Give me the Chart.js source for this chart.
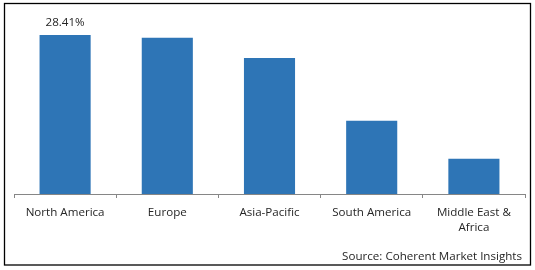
<!DOCTYPE html>
<html>
<head>
<meta charset="utf-8">
<script src="https://cdn.jsdelivr.net/npm/chart.js@4.4.0/dist/chart.umd.min.js"></script>
<style>
html,body{margin:0;padding:0;background:#fff;}
#wrap{position:relative;width:535px;height:270px;}
</style>
</head>
<body>
<div id="wrap"><canvas id="c" width="535" height="270"></canvas></div>
<script>
const categories = ['North America', 'Europe', 'Asia-Pacific', 'South America', ['Middle East &', 'Africa']];
const shareValues = [28.41, 27.9, 24.3, 13.1, 6.3];
const shownLabels = ['28.41%', '', '', '', ''];
const sourceText = 'Source: Coherent Market Insights';

const FONT = '"Open Sans", "DejaVu Sans", sans-serif';
const FSIZE = 11.6;

const decor = {
  id: 'decor',
  afterDraw(chart) {
    const ctx = chart.ctx;
    ctx.save();
    ctx.strokeStyle = '#000';
    ctx.lineWidth = 1.3;
    ctx.strokeRect(4.5, 3.5, 526, 261.5);
    const meta = chart.getDatasetMeta(0);
    ctx.fillStyle = '#262626';
    ctx.font = FSIZE + 'px ' + FONT;
    ctx.textAlign = 'center';
    ctx.textBaseline = 'middle';
    meta.data.forEach((bar, i) => {
      if (shownLabels[i]) ctx.fillText(shownLabels[i], bar.x, bar.y - 12);
    });
    ctx.textAlign = 'right';
    ctx.fillText(sourceText, 522, 257);
    ctx.restore();
  }
};

new Chart(document.getElementById('c'), {
  type: 'bar',
  data: {
    labels: categories,
    datasets: [{
      data: shareValues,
      backgroundColor: '#2E75B6',
      borderWidth: 0,
      categoryPercentage: 1,
      barPercentage: 0.5
    }]
  },
  options: {
    responsive: false,
    animation: false,
    devicePixelRatio: 1,
    layout: { padding: { left: 14, right: 10, top: 26, bottom: 0 } },
    plugins: { legend: { display: false }, tooltip: { enabled: false } },
    scales: {
      y: {
        display: false,
        min: 0,
        max: 30,
        afterFit(scale) { scale.width = 0; }
      },
      x: {
        afterFit(scale) { scale.height = 76; },
        grid: {
          display: true,
          drawOnChartArea: false,
          drawTicks: true,
          tickLength: 4,
          color: '#868686',
          offset: true
        },
        border: { display: true, color: '#868686', width: 1 },
        ticks: {
          color: '#262626',
          font: { family: FONT, size: FSIZE, lineHeight: 1.3 },
          padding: 7,
          maxRotation: 0,
          autoSkip: false
        }
      }
    }
  },
  plugins: [decor]
});
</script>
</body>
</html>
